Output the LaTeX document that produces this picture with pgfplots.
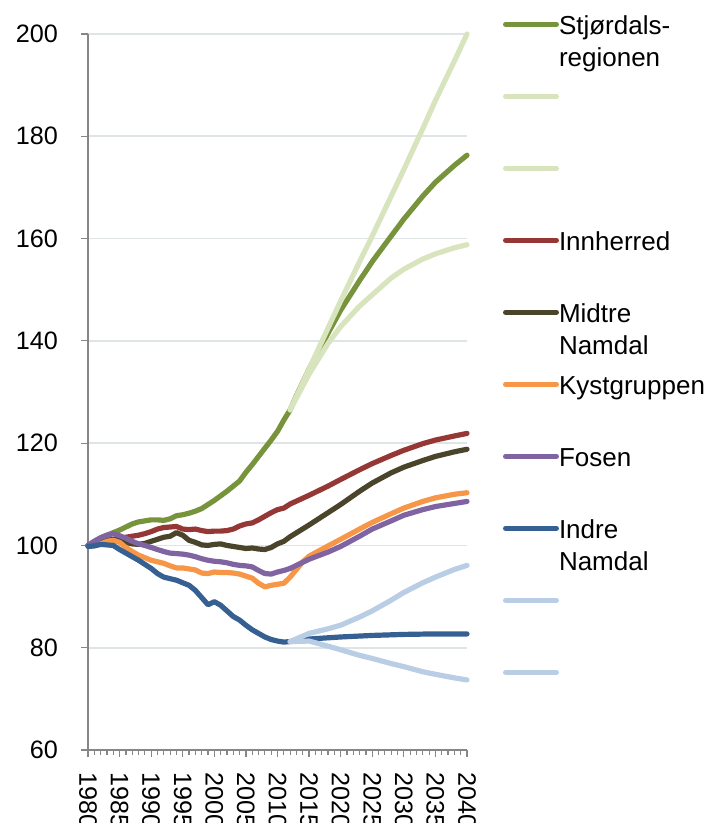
\documentclass[border=0pt]{standalone}
\usepackage{pgfplots}
\pgfplotsset{compat=1.18}
\usepackage{fontspec}
\setmainfont{Liberation Sans}

\definecolor{cgreen}{HTML}{77933C}
\definecolor{clgreen}{HTML}{D7E4BD}
\definecolor{cred}{HTML}{953735}
\definecolor{cdark}{HTML}{4A452A}
\definecolor{corange}{HTML}{F79646}
\definecolor{cpurple}{HTML}{8064A2}
\definecolor{cblue}{HTML}{376092}
\definecolor{clblue}{HTML}{B9CDE5}
\definecolor{cgrid}{HTML}{DFE4E4}
\definecolor{caxis}{HTML}{868686}

% legend text cell, top aligned (extra lines hang below)
\newcommand{\legtext}[1]{\parbox[t]{85pt}{\fontsize{13}{16}\selectfont\strut #1}}

\begin{document}
\begin{tikzpicture}[x=1pt,y=1pt]
\begin{axis}[
    at={(44pt,36.5pt)}, anchor=south west,
    scale only axis, width=189.5pt, height=358pt,
    xmin=1980, xmax=2040, ymin=60, ymax=200,
    clip=false,
    axis lines*=left,
    axis line style={caxis, line width=0.75pt, -},
    ytick={60,80,...,200},
    ymajorgrids,
    grid style={cgrid, line width=0.8pt},
    xtick={1980,1985,...,2040},
    minor x tick num=4,
    tick align=outside,
    major tick length=3.5pt, minor tick length=2.5pt,
    tick style={caxis, line width=0.6pt},
    every tick label/.append style={font=\fontsize{12.6}{15}\selectfont},
    /pgf/number format/assume math mode=true,
    /pgf/number format/1000 sep={},
    x tick label style={rotate=-90, anchor=west},
    y tick label style={anchor=east},
    xticklabel shift=4pt,
    yticklabel shift=8pt,
    every axis plot/.append style={line width=2.6pt, line join=round, line cap=round},
    no markers,
    legend cell align=left,
    legend image code/.code={\draw[#1] (0pt,0pt) -- (25.4pt,0pt);},
    legend style={at={(1,1)}, anchor=north west, xshift=17.8pt, yshift=11pt,
        draw=none, fill=none, inner sep=0pt, row sep=24pt, column sep=0pt,
        nodes={inner sep=0pt, text height=11pt, text depth=1pt}},
]
% Stjørdalsregionen
\addplot[cgreen] coordinates {
(1980,100)(1981,100.8)(1982,101.5)(1983,102)(1984,102.5)(1985,103)(1986,103.6)
(1987,104.2)(1988,104.6)(1989,104.8)(1990,105)(1991,105)(1992,104.9)(1993,105.2)
(1994,105.8)(1995,106)(1996,106.3)(1997,106.7)(1998,107.2)(1999,108)(2000,108.8)
(2001,109.7)(2002,110.6)(2003,111.6)(2004,112.6)(2005,114.3)(2006,115.8)(2007,117.4)
(2008,119)(2009,120.6)(2010,122.3)(2011,124.5)(2012,126.5)(2013,129.3)(2015,134.5)
(2018,141.5)(2020,146)(2023,151.8)(2025,155.5)(2028,160.5)(2030,163.8)(2033,168.3)
(2035,171)(2038,174.3)(2040,176.3)};
\addlegendentry{\legtext{Stjørdals-\\regionen}}
\addplot[clgreen] coordinates {
(2012,126.5)(2015,134.5)(2018,142.5)(2020,147.8)(2023,155.5)(2025,160.5)(2028,168.3)
(2030,173.5)(2033,181.5)(2035,187)(2038,194.7)(2040,200)};
\addlegendentry{\legtext{}}
\addplot[clgreen] coordinates {
(2012,126.5)(2015,133.5)(2018,139.5)(2020,142.8)(2023,146.8)(2025,149)(2028,152.3)
(2030,154)(2033,156)(2035,157)(2038,158.2)(2040,158.8)};
\addlegendentry{\legtext{}}
% Innherred
\addplot[cred] coordinates {
(1980,100)(1981,100.3)(1982,100.5)(1983,100.8)(1984,101)(1985,101.2)(1986,101.6)
(1987,101.8)(1988,102)(1989,102.3)(1990,102.7)(1991,103.2)(1992,103.5)(1993,103.6)
(1994,103.7)(1995,103.2)(1996,103.1)(1997,103.2)(1998,102.9)(1999,102.7)(2000,102.8)
(2001,102.8)(2002,102.9)(2003,103.2)(2004,103.8)(2005,104.2)(2006,104.4)(2007,105)
(2008,105.7)(2009,106.4)(2010,107)(2011,107.3)(2012,108.1)(2015,109.8)(2018,111.6)
(2020,112.9)(2023,114.8)(2025,116)(2028,117.6)(2030,118.6)(2033,119.9)(2035,120.6)
(2038,121.4)(2040,121.9)};
\addlegendentry{\legtext{Innherred}}
% Midtre Namdal
\addplot[cdark] coordinates {
(1980,100)(1981,100.3)(1982,100.8)(1983,101)(1984,101.2)(1985,101)(1986,100.6)
(1987,100.3)(1988,100.2)(1989,100.4)(1990,100.8)(1991,101.2)(1992,101.6)(1993,101.8)
(1994,102.5)(1995,102)(1996,101)(1997,100.6)(1998,100.1)(1999,100)(2000,100.2)
(2001,100.3)(2002,100)(2003,99.8)(2004,99.6)(2005,99.4)(2006,99.5)(2007,99.3)
(2008,99.2)(2009,99.6)(2010,100.3)(2011,100.8)(2012,101.7)(2015,104)(2018,106.4)
(2020,108)(2023,110.6)(2025,112.2)(2028,114.2)(2030,115.3)(2033,116.6)(2035,117.4)
(2038,118.3)(2040,118.8)};
\addlegendentry{\legtext{Midtre\\Namdal}}
% Kystgruppen
\addplot[corange] coordinates {
(1980,100)(1981,100)(1982,100.3)(1983,100.8)(1984,101)(1985,100.6)(1986,99.6)
(1987,98.8)(1988,98.1)(1989,97.6)(1990,97.1)(1991,96.8)(1992,96.5)(1993,96)
(1994,95.6)(1995,95.6)(1996,95.4)(1997,95.2)(1998,94.6)(1999,94.5)(2000,94.8)
(2001,94.7)(2002,94.7)(2003,94.6)(2004,94.4)(2005,94)(2006,93.6)(2007,92.6)
(2008,91.9)(2009,92.2)(2010,92.4)(2011,92.6)(2012,93.8)(2013,95.3)(2014,96.8)
(2015,97.9)(2018,99.9)(2020,101.2)(2023,103.2)(2025,104.5)(2028,106.2)(2030,107.3)
(2033,108.6)(2035,109.3)(2038,110)(2040,110.3)};
\addlegendentry{\legtext{Kystgruppen}}
% Fosen
\addplot[cpurple] coordinates {
(1980,100)(1981,100.8)(1982,101.5)(1983,102)(1984,102.3)(1985,101.9)(1986,101.4)
(1987,100.8)(1988,100.3)(1989,100)(1990,99.6)(1991,99.2)(1992,98.8)(1993,98.5)
(1994,98.4)(1995,98.3)(1996,98.1)(1997,97.8)(1998,97.4)(1999,97.1)(2000,96.9)
(2001,96.8)(2002,96.6)(2003,96.3)(2004,96.1)(2005,96)(2006,95.8)(2007,95.1)
(2008,94.5)(2009,94.4)(2010,94.8)(2011,95.1)(2012,95.5)(2015,97.3)(2018,98.7)
(2020,99.8)(2023,101.8)(2025,103.2)(2028,104.8)(2030,105.9)(2033,107)(2035,107.6)
(2038,108.2)(2040,108.6)};
\addlegendentry{\legtext{Fosen}}
% Indre Namdal
\addplot[cblue] coordinates {
(1980,99.8)(1981,99.9)(1982,100.2)(1983,100.1)(1984,100)(1985,99.2)(1986,98.5)
(1987,97.8)(1988,97.1)(1989,96.3)(1990,95.5)(1991,94.5)(1992,93.8)(1993,93.5)
(1994,93.2)(1995,92.7)(1996,92.2)(1997,91.2)(1998,89.8)(1999,88.4)(2000,89)
(2001,88.3)(2002,87.2)(2003,86.1)(2004,85.4)(2005,84.4)(2006,83.5)(2007,82.8)
(2008,82.1)(2009,81.6)(2010,81.3)(2011,81.1)(2012,81.2)(2015,81.7)(2020,82.1)
(2025,82.4)(2030,82.6)(2035,82.7)(2040,82.7)};
\addlegendentry{\legtext{Indre\\Namdal}}
\addplot[clblue] coordinates {
(2012,81.2)(2015,82.8)(2018,83.7)(2020,84.4)(2023,86)(2025,87.2)(2028,89.3)
(2030,90.8)(2033,92.7)(2035,93.8)(2038,95.3)(2040,96.1)};
\addlegendentry{\legtext{}}
\addplot[clblue] coordinates {
(2012,81.2)(2015,81.3)(2018,80.3)(2020,79.6)(2023,78.5)(2025,77.9)(2028,76.9)
(2030,76.3)(2033,75.3)(2035,74.8)(2038,74.1)(2040,73.7)};
\addlegendentry{\legtext{}}
\end{axis}
\pgfresetboundingbox
\path[use as bounding box] (0,0) rectangle (355.5,411.5);
\end{tikzpicture}
\end{document}
